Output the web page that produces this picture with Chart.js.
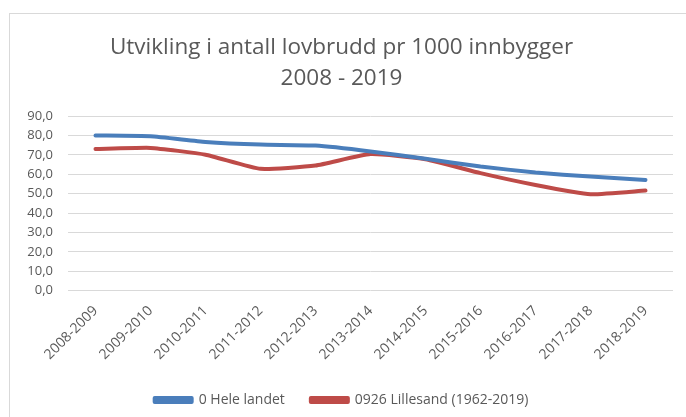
<!DOCTYPE html>
<html>
<head>
<meta charset="utf-8">
<script src="https://cdn.jsdelivr.net/npm/chart.js@4/dist/chart.umd.min.js"></script>
<style>
  html, body { margin: 0; padding: 0; background: #fff; overflow: hidden; }
  #wrap {
    position: absolute; left: 9px; top: 13px;
    width: 676px; height: 403px;
    border-left: 1px solid #d9d9d9; border-top: 1px solid #d9d9d9;
  }
</style>
</head>
<body>
<div id="wrap"><canvas id="chart"></canvas></div>
<script>
// Kategorier (perioder)
const periods = ['2008-2009', '2009-2010', '2010-2011', '2011-2012', '2012-2013', '2013-2014',
  '2014-2015', '2015-2016', '2016-2017', '2017-2018', '2018-2019'];

// Lovbrudd pr 1000 innbyggere
const heleLandet = [80.0, 79.6, 76.7, 75.3, 74.8, 71.8, 68.0, 64.0, 60.9, 58.8, 57.1];
const lillesand = [73.0, 73.6, 70.1, 62.8, 64.5, 70.4, 67.8, 60.6, 54.5, 49.7, 51.6];

// y-akse
const yTicks = [0, 10, 20, 30, 40, 50, 60, 70, 80, 90];

const seriesNames = ['0 Hele landet', '0926 Lillesand (1962-2019)'];
const titleLines = ['Utvikling i antall lovbrudd pr 1000 innbygger', '2008 - 2019'];

const FONT = "'Open Sans', 'Noto Sans', sans-serif";
const TEXT = '#595959';

new Chart(document.getElementById('chart').getContext('2d'), {
  type: 'line',
  data: {
    labels: periods,
    datasets: [
      {
        label: seriesNames[0],
        data: heleLandet,
        borderColor: '#4a7ebb',
        backgroundColor: '#4a7ebb',
        borderWidth: 4,
        borderCapStyle: 'round',
        borderJoinStyle: 'round',
        pointRadius: 0,
        tension: 0.15,
      },
      {
        label: seriesNames[1],
        data: lillesand,
        borderColor: '#be4b48',
        backgroundColor: '#be4b48',
        borderWidth: 4,
        borderCapStyle: 'round',
        borderJoinStyle: 'round',
        pointRadius: 0,
        tension: 0.15,
      },
    ],
  },
  options: {
    responsive: true,
    maintainAspectRatio: false,
    animation: false,
    layout: { padding: { left: 0, right: 13, top: 18, bottom: 0 } },
    plugins: {
      title: {
        display: true,
        text: titleLines,
        color: TEXT,
        font: { family: FONT, size: 22.5, weight: 'normal', lineHeight: 1.38 },
        padding: { top: 0, bottom: 22 },
      },
      legend: {
        position: 'bottom',
        labels: {
          color: TEXT,
          font: { family: FONT, size: 14 },
          boxWidth: 37,
          boxHeight: 4,
          padding: 26,
        },
      },
      tooltip: { enabled: false },
    },
    scales: {
      x: {
        offset: true,
        grid: { display: false },
        border: { display: false },
        ticks: {
          color: TEXT,
          font: { family: FONT, size: 14 },
          maxRotation: 45,
          minRotation: 45,
          padding: 4,
        },
      },
      y: {
        min: 0,
        max: 90,
        border: { display: false },
        grid: { color: '#d9d9d9', lineWidth: 1, drawTicks: false },
        afterBuildTicks: (scale) => {
          scale.ticks = yTicks.map((v) => ({ value: v }));
        },
        afterFit: (scale) => {
          scale.width = 58;
        },
        ticks: {
          color: TEXT,
          font: { family: FONT, size: 13 },
          padding: 15,
          callback: (value) => value.toFixed(1).replace('.', ','),
        },
      },
    },
  },
});
</script>
</body>
</html>
